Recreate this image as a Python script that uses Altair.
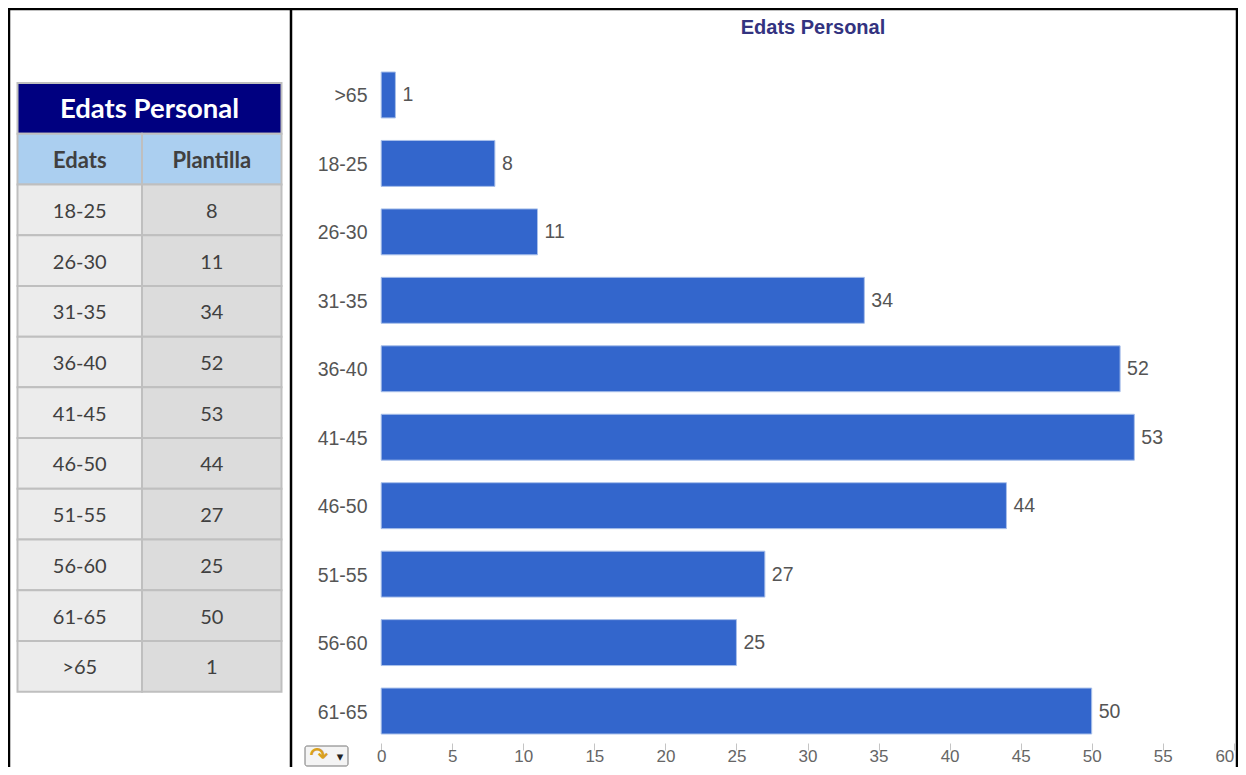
import altair as alt
import pandas as pd

ages = ["18-25", "26-30", "31-35", "36-40", "41-45", "46-50", "51-55", "56-60", "61-65", ">65"]
counts = [8, 11, 34, 52, 53, 44, 27, 25, 50, 1]
chart_order = [">65", "18-25", "26-30", "31-35", "36-40", "41-45", "46-50", "51-55", "56-60", "61-65"]
table_title = "Edats Personal"
col_headers = ["Edats", "Plantilla"]
x_ticks = list(range(0, 65, 5))

TABLE_FONT = "Lato"
CHART_FONT = "Liberation Sans"
W, H = 1230, 759

df = pd.DataFrame({"age": ages, "count": counts})
df["count_txt"] = df["count"].astype(str)
df["c1"] = col_headers[0]
df["c2"] = col_headers[1]

row_keys = ["__title", "__head"] + ages
row_scale = alt.Scale(type="band", domain=row_keys, range=[75, 683.7], paddingInner=0, paddingOuter=0)


def col_scale(name, r):
    return alt.Scale(type="band", domain=[name], range=r, paddingInner=0, paddingOuter=0)


def cell_layers(data, col_field, col_name, r, row_field, text_field, fill, color, size, weight):
    x = alt.X(f"{col_field}:N", scale=col_scale(col_name, r), axis=None)
    y = alt.Y(f"{row_field}:N", scale=row_scale, axis=None)
    rect = alt.Chart(data).mark_rect(fill=fill, stroke="#bfbfbf", strokeWidth=2).encode(x=x, y=y)
    text = alt.Chart(data).mark_text(font=TABLE_FONT, fontSize=size, fontWeight=weight, color=color, dy=2).encode(
        x=x, y=y, text=f"{text_field}:N")
    return [rect, text]


left_range = [9.5, 134]
right_range = [134, 273.5]

layers = []
title_df = pd.DataFrame({"c": [table_title], "r": ["__title"], "t": [table_title]})
layers += cell_layers(title_df, "c", table_title, [9.5, 273.5], "r", "t", "#000080", "white", 27.5, "bold")
head1 = pd.DataFrame({"c": [col_headers[0]], "r": ["__head"], "t": [col_headers[0]]})
head2 = pd.DataFrame({"c": [col_headers[1]], "r": ["__head"], "t": [col_headers[1]]})
layers += cell_layers(head1, "c", col_headers[0], left_range, "r", "t", "#abcff0", "#404040", 22, "bold")
layers += cell_layers(head2, "c", col_headers[1], right_range, "r", "t", "#abcff0", "#404040", 22, "bold")
layers += cell_layers(df, "c1", col_headers[0], left_range, "age", "age", "#ececec", "#404040", 20, "normal")
layers += cell_layers(df, "c2", col_headers[1], right_range, "age", "count_txt", "#dcdcdc", "#404040", 20, "normal")

# Horizontal bar chart
bar_x_scale = alt.Scale(domain=[0, 60], range=[373.2, 1225.8], nice=False, zero=True)
bar_y_scale = alt.Scale(type="band", domain=chart_order, range=[52.7, 737.3], paddingInner=0.329, paddingOuter=0.165)

bars = alt.Chart(df).mark_bar(color="#3366cc", stroke="#a9c0ea", strokeWidth=1).encode(
    x=alt.X("count:Q", scale=bar_x_scale,
            axis=alt.Axis(values=x_ticks, title=None, domain=False, grid=False, orient="bottom", offset=-24,
                          tickColor="#c4c4c4", tickSize=7, labelPadding=-2, labelFont=CHART_FONT, labelFontSize=17,
                          labelColor="#666666", labelFlush=False, labelOverlap=False,
                          labelAlign=alt.expr("datum.value == 60 ? 'right' : 'center'"))),
    y=alt.Y("age:N", scale=bar_y_scale,
            axis=alt.Axis(title=None, domain=False, ticks=False, orient="left", offset=-373, labelPadding=14,
                          labelOffset=1.5, labelFont=CHART_FONT, labelFontSize=19.5, labelColor="#555555")),
)
bar_labels = alt.Chart(df).mark_text(align="left", dx=7, dy=0.5, font=CHART_FONT, fontSize=19.5, color="#555555").encode(
    x=alt.X("count:Q", scale=bar_x_scale, axis=None),
    y=alt.Y("age:N", scale=bar_y_scale, axis=None),
    text="count:Q",
)
layers += [bars, bar_labels]

# Frame lines
for xv in [1, 283, 1229]:
    layers.append(alt.Chart(pd.DataFrame({"a": [0]})).mark_rule(color="black", strokeWidth=2.5).encode(
        x=alt.value(xv), y=alt.value(0), y2=alt.value(H)))
layers.append(alt.Chart(pd.DataFrame({"a": [0]})).mark_rule(color="black", strokeWidth=2.5).encode(
    x=alt.value(0), x2=alt.value(1230), y=alt.value(1)))

# Small menu button in the chart corner
layers.append(alt.Chart(pd.DataFrame({"a": [0]})).mark_rect(
    fill="#f4f4f4", stroke="#777777", cornerRadius=2).encode(
    x=alt.value(297), x2=alt.value(340), y=alt.value(738), y2=alt.value(758)))
layers.append(alt.Chart(pd.DataFrame({"t": ["↷"]})).mark_text(
    font="DejaVu Sans", fontSize=22, fontWeight="bold", color="#d9a020").encode(
    x=alt.value(311), y=alt.value(748), text="t:N"))
layers.append(alt.Chart(pd.DataFrame({"t": ["▾"]})).mark_text(
    font="DejaVu Sans", fontSize=13, color="#222222").encode(
    x=alt.value(332), y=alt.value(749), text="t:N"))

chart = alt.layer(*layers).resolve_scale(x="independent", y="independent").properties(
    width=W, height=H, padding=0,
    autosize=alt.AutoSizeParams(type="none"),
    title=alt.TitleParams(table_title, anchor="middle", frame="group", dx=190, dy=31, offset=0,
                          font=CHART_FONT, fontSize=20, fontWeight="bold", color="#333380"),
).configure_view(stroke=None)

chart.save("out.html", embed_options={"renderer": "svg", "actions": False})
